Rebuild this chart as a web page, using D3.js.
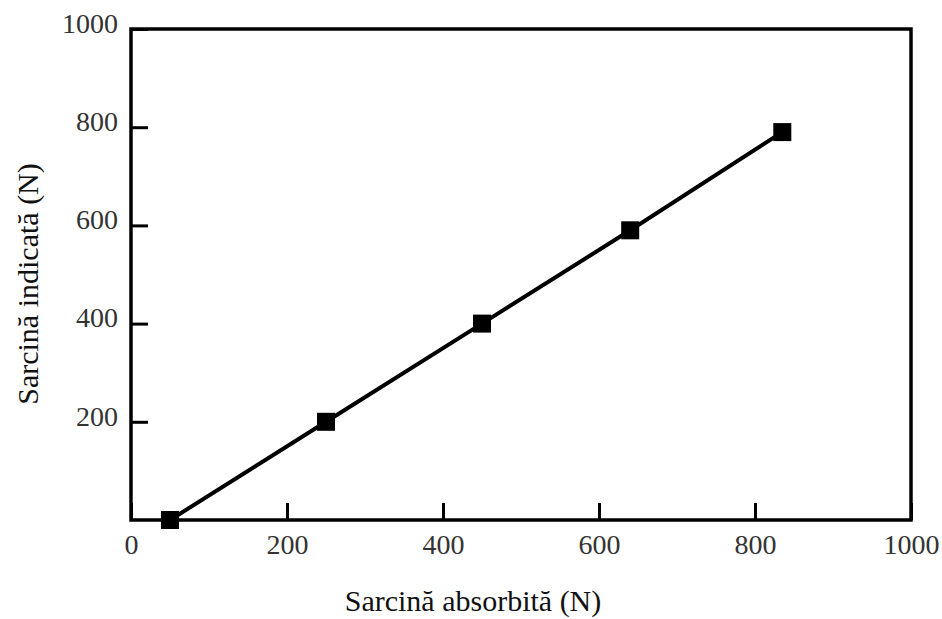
<!DOCTYPE html>
<html>
<head>
<meta charset="utf-8">
<script src="https://cdn.jsdelivr.net/npm/d3@7"></script>
<style>
  body { margin: 0; background: #fff; }
  svg text { font-family: "Liberation Serif", "Times New Roman", serif; }
</style>
</head>
<body>
<svg width="942" height="619"></svg>
<script>
// data
const absorbed = [50, 250, 450, 640, 835];   // Sarcină absorbită (N)
const indicated = [0, 200, 400, 590, 790];   // Sarcină indicată (N)
const xTicks = [0, 200, 400, 600, 800, 1000];
const yTicks = [200, 400, 600, 800, 1000];

const svg = d3.select('svg');

// plot frame
const plotLeft = 131, plotRight = 911, plotTop = 29, plotBottom = 520;

const x = d3.scaleLinear().domain([0, 1000]).range([plotLeft, plotRight]);
const y = d3.scaleLinear().domain([0, 1000]).range([plotBottom, plotTop]);

// x axis, ticks pointing inward
const xAxis = svg.append('g')
  .attr('transform', `translate(0,${plotBottom})`)
  .call(d3.axisBottom(x).tickValues(xTicks).tickFormat(d3.format('d'))
    .tickSizeInner(-17).tickSizeOuter(0).tickPadding(26));
xAxis.select('.domain').remove();
xAxis.selectAll('line').attr('stroke', '#000').attr('stroke-width', 3);
xAxis.selectAll('text').attr('font-size', 28).attr('fill', '#333').attr('dy', '0.3em');

// y axis
const yAxis = svg.append('g')
  .attr('transform', `translate(${plotLeft},0)`)
  .call(d3.axisLeft(y).tickValues(yTicks).tickFormat(d3.format('d'))
    .tickSizeInner(-17).tickSizeOuter(0));
yAxis.select('.domain').remove();
yAxis.selectAll('line').attr('stroke', '#000').attr('stroke-width', 3);
yAxis.selectAll('text').attr('font-size', 28).attr('fill', '#333')
  .attr('dy', '0.12em').attr('x', -13);

// frame box
svg.append('rect')
  .attr('x', plotLeft).attr('y', plotTop)
  .attr('width', plotRight - plotLeft).attr('height', plotBottom - plotTop)
  .attr('fill', 'none').attr('stroke', '#000').attr('stroke-width', 3.5);

// the line
const pts = absorbed.map((d, i) => [d, indicated[i]]);
svg.append('path')
  .datum(pts)
  .attr('fill', 'none')
  .attr('stroke', '#000')
  .attr('stroke-width', 4)
  .attr('d', d3.line().x(d => x(d[0])).y(d => y(d[1])));

// square markers
const s = 18;
svg.selectAll('rect.pt')
  .data(pts)
  .enter().append('rect')
  .attr('class', 'pt')
  .attr('x', d => x(d[0]) - s / 2)
  .attr('y', d => y(d[1]) - s / 2)
  .attr('width', s).attr('height', s)
  .attr('fill', '#000');

// axis titles
svg.append('text')
  .attr('x', 473).attr('y', 611)
  .attr('text-anchor', 'middle')
  .attr('font-size', 30)
  .attr('fill', '#111')
  .text('Sarcină absorbită (N)');

svg.append('text')
  .attr('transform', 'translate(38,284) rotate(-90)')
  .attr('text-anchor', 'middle')
  .attr('font-size', 30)
  .attr('fill', '#111')
  .text('Sarcină indicată (N)');
</script>
</body>
</html>
